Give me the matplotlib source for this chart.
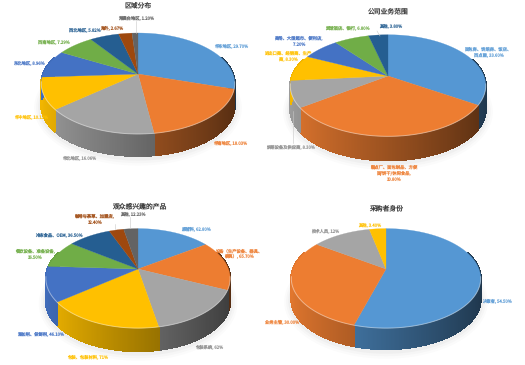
import numpy as np
import matplotlib
matplotlib.use('Agg')
import matplotlib.pyplot as plt
from matplotlib.colors import to_rgb

plt.rcParams['font.family'] = ['Noto Sans CJK SC', 'DejaVu Sans']
plt.rcParams['text.hinting'] = 'none'

COLORS = ['#5597d3', '#ed7d31', '#a5a5a5', '#ffc000', '#4472c4', '#70ad47', '#255e91', '#9e480e', '#636363']

region_title = '区域分布'
region_values = [29.70, 18.03, 16.06, 10.13, 8.96, 7.29, 5.82, 2.67, 1.20]
region_labels = ['华东地区, 29.70%', '华南地区, 18.03%', '华北地区, 16.06%', '华中地区, 10.13%', '东北地区, 8.96%',
                 '西南地区, 7.29%', '西北地区, 5.82%', '海外, 2.67%', '港澳台地区, 1.20%']

business_title = '公司业务范围'
business_values = [33.60, 30.80, 8.30, 8.30, 7.20, 6.80, 3.80]
business_labels = ['面包房、饼焙房、饭店、\n西点屋, 33.60%', '糕点厂、面包制品、方便\n面/饼干/休闲食品,\n30.80%',
                   '烘焙设备及供应商, 8.30%', '进出口商、经销商、生产\n商, 8.30%', '商场、大型超市、便利店,\n7.20%',
                   '宾馆酒店、银行, 6.80%', '其他, 3.80%']

product_title = '观众感兴趣的产品'
product_values = [62.80, 65.70, 62, 71, 46.10, 36.50, 36.50, 12.40, 12.23]
product_labels = ['原辅料, 62.80%', '设备（生产设备、器具、\n模具）, 65.70%', '包装系统, 62%', '包装、包装材料, 71%',
                  '添加剂、保鲜剂, 46.10%', '餐饮设备、准备设备,\n36.50%', '冷冻食品、OEM, 36.50%',
                  '咖啡与茶草、加盟店,\n12.40%', '其他, 12.23%']

buyer_title = '采购者身份'
buyer_values = [54.50, 30.00, 12, 3.40]
buyer_labels = ['决策者, 54.50%', '业务主管, 30.00%', '技术人员, 12%', '其他, 3.40%']


def project(theta, cx, cy, bx, ay, k=0.188):
    # circle seen in perspective, theta runs clockwise from the top
    w = 1 + k * np.cos(theta)
    return cx + bx * np.sin(theta) / w, cy - ay * np.cos(theta) / w


def draw_pie(ax, values, cx, cy, bx, ay, depth):
    # soft shadow under the pie
    t = np.linspace(0, 2 * np.pi, 200)
    for grow, alpha in [(7, 0.03), (5, 0.04), (3, 0.05)]:
        x, y = project(t, cx, cy, bx + grow, ay + grow)
        ax.fill(x, y + depth + 1, color='#808080', alpha=alpha, lw=0, zorder=1)

    fractions = np.array(values) / sum(values)
    edges = np.concatenate([[0], np.cumsum(fractions)]) * 2 * np.pi

    # side wall, shaded from left to right, one column per small step
    for i in range(len(values)):
        steps = max(int((edges[i + 1] - edges[i]) * 90), 2)
        t = np.linspace(edges[i], edges[i + 1], steps + 1)
        base = np.array(to_rgb(COLORS[i % len(COLORS)]))
        for a, b in zip(t[:-1], t[1:]):
            if np.cos((a + b) / 2) > 0.35:
                continue
            xa, ya = project(a, cx, cy, bx, ay)
            xb, yb = project(b, cx, cy, bx, ay)
            pos = (np.sin((a + b) / 2) + 1) / 2
            shade = base * (0.95 - 0.6 * pos)
            ax.fill([xa, xb, xb, xa], [ya, yb, yb + depth, ya + depth], facecolor=shade, edgecolor=shade,
                    lw=0.8, antialiased=False, zorder=2)

    # top face
    for i in range(len(values)):
        t = np.linspace(edges[i], edges[i + 1], 80)
        x, y = project(t, cx, cy, bx, ay)
        ax.fill(np.r_[cx, x], np.r_[cy, y], color=COLORS[i % len(COLORS)], lw=0.2, zorder=3)

    # light rim along the front edge
    t = np.linspace(np.pi * 0.55, np.pi * 1.45, 120)
    x, y = project(t, cx, cy, bx, ay)
    ax.plot(x, y, color='white', lw=0.7, alpha=0.45, zorder=4)


def put_labels(ax, labels, spots, colors):
    for text, (x, y), c in zip(labels, spots, colors):
        ax.text(x, y, text, ha='center', va='center', fontsize=3.1, color=c, alpha=0.9,
                linespacing=1.35, zorder=6)


fig = plt.figure(figsize=(5.25, 3.65), dpi=100)
ax = fig.add_axes([0, 0, 1, 1])
ax.set_xlim(0, 525)
ax.set_ylim(365, 0)
ax.axis('off')

draw_pie(ax, region_values, 138, 74, 95, 48.7, 22)
draw_pie(ax, business_values, 388, 76, 96, 49, 24)
draw_pie(ax, product_values, 138, 269, 90.5, 48, 23)
draw_pie(ax, buyer_values, 386, 269, 93, 48, 21)

for title, x, y in [(region_title, 138, 5), (business_title, 388, 11), (product_title, 139, 206), (buyer_title, 386, 208)]:
    ax.text(x, y, title, ha='center', va='center', fontsize=4.9, color='#404040', zorder=6)

text_colors = ['#5b9bd5', '#ed7d31', '#8f8f8f', '#ffc000', '#4472c4', '#70ad47', '#255e91', '#9e480e', '#636363']

put_labels(ax, region_labels,
           [(231, 46), (230, 143), (79, 158), (31, 117), (29, 63), (54, 42), (85, 30), (112, 28), (136, 18)],
           text_colors)
put_labels(ax, business_labels,
           [(489, 52), (394, 173), (291, 147), (288, 56), (299, 41), (348, 28), (391, 26)],
           text_colors)
put_labels(ax, product_labels,
           [(196, 229), (239, 254), (209, 347), (88, 357), (41, 334), (35, 254), (59, 235), (95, 219), (133, 214)],
           text_colors)
put_labels(ax, buyer_labels,
           [(497, 301), (282, 322), (325, 231), (370, 225)],
           text_colors)

# leader lines
for xs, ys in [([136, 136], [21, 33]), ([293, 293], [143, 111]), ([377, 380], [31, 36]),
               ([115, 115], [224, 229]), ([130, 130], [217, 228])]:
    ax.plot(xs, ys, color='#c8c8c8', lw=0.4, zorder=5)

fig.savefig('out.png', dpi=100)
